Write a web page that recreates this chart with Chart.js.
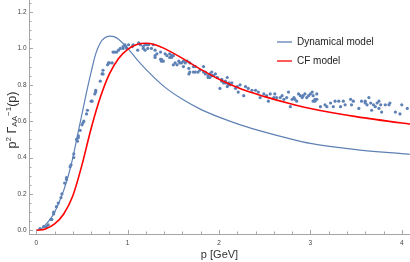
<!DOCTYPE html>
<html>
<head>
<meta charset="utf-8">
<script src="https://cdn.jsdelivr.net/npm/chart.js@4.4.0/dist/chart.umd.min.js"></script>
<style>
html, body { margin: 0; padding: 0; background: #fff; }
#wrap { width: 410px; height: 262px; position: relative; }
</style>
</head>
<body>
<div id="wrap"><canvas id="myChart"></canvas></div>
<script>
// Dynamical model curve
const dynP = [0, 0.05, 0.1, 0.15, 0.2, 0.25, 0.3, 0.35, 0.4, 0.45, 0.5, 0.55, 0.6, 0.65, 0.7, 0.75, 0.8, 0.85, 0.9, 1.0, 1.1, 1.2, 1.4, 1.6, 1.8, 2.0, 2.25, 2.5, 2.75, 3.0, 3.5, 4.0, 4.1]
const dynVal = [0, 0.008, 0.03, 0.06, 0.1, 0.155, 0.22, 0.3, 0.4, 0.52, 0.64, 0.76, 0.87, 0.97, 1.03, 1.058, 1.068, 1.065, 1.05, 1.0, 0.94, 0.885, 0.79, 0.72, 0.665, 0.622, 0.577, 0.54, 0.507, 0.478, 0.444, 0.422, 0.418]

// CF model curve
const cfP = [0, 0.1, 0.2, 0.3, 0.4, 0.5, 0.6, 0.7, 0.8, 0.9, 1.0, 1.1, 1.2, 1.3, 1.4, 1.6, 1.8, 2.0, 2.25, 2.5, 2.75, 3.0, 3.5, 4.0, 4.1]
const cfVal = [0, 0.008, 0.035, 0.09, 0.19, 0.36, 0.56, 0.73, 0.86, 0.945, 0.995, 1.022, 1.028, 1.02, 1.0, 0.945, 0.885, 0.83, 0.775, 0.735, 0.7, 0.67, 0.625, 0.59, 0.584]

// lattice points
const latP = [0.04, 0.08, 0.11, 0.13, 0.16, 0.17, 0.19, 0.19, 0.22, 0.24, 0.27, 0.28, 0.31, 0.33, 0.33, 0.37, 0.38, 0.41, 0.41, 0.44, 0.45, 0.46, 0.46, 0.48, 0.5, 0.51, 0.52, 0.55, 0.56, 0.6, 0.61, 0.64, 0.65, 0.65, 0.7, 0.72, 0.73, 0.73, 0.78, 0.79, 0.8, 0.83, 0.84, 0.86, 0.88, 0.9, 0.92, 0.95, 0.95, 0.97, 0.98, 0.99, 1.01, 1.05, 1.06, 1.11, 1.12, 1.14, 1.17, 1.17, 1.19, 1.19, 1.21, 1.22, 1.23, 1.26, 1.28, 1.3, 1.3, 1.3, 1.32, 1.36, 1.36, 1.37, 1.37, 1.39, 1.41, 1.43, 1.46, 1.46, 1.48, 1.48, 1.5, 1.5, 1.52, 1.54, 1.56, 1.57, 1.59, 1.61, 1.61, 1.63, 1.65, 1.67, 1.67, 1.68, 1.68, 1.72, 1.72, 1.74, 1.74, 1.77, 1.79, 1.83, 1.83, 1.85, 1.85, 1.88, 1.88, 1.9, 1.9, 1.92, 1.92, 1.94, 1.96, 1.98, 1.98, 2.01, 2.03, 2.03, 2.05, 2.07, 2.07, 2.09, 2.09, 2.1, 2.11, 2.12, 2.14, 2.18, 2.2, 2.21, 2.23, 2.27, 2.29, 2.32, 2.36, 2.4, 2.43, 2.45, 2.49, 2.52, 2.54, 2.56, 2.6, 2.61, 2.63, 2.67, 2.69, 2.71, 2.74, 2.76, 2.78, 2.8, 2.82, 2.83, 2.85, 2.87, 2.89, 2.91, 2.92, 2.94, 2.96, 2.98, 3.0, 3.02, 3.03, 3.05, 3.03, 3.07, 3.07, 3.05, 3.11, 3.16, 3.18, 3.22, 3.25, 3.27, 3.31, 3.33, 3.36, 3.38, 3.44, 3.45, 3.47, 3.53, 3.56, 3.6, 3.6, 3.62, 3.64, 3.66, 3.67, 3.69, 3.71, 3.73, 3.75, 3.75, 3.77, 3.78, 3.82, 3.86, 3.87, 3.93, 3.98, 4.0, 4.06]
const latVal = [0.01, 0.02, 0.02, 0.03, 0.06, 0.06, 0.09, 0.1, 0.13, 0.15, 0.18, 0.2, 0.26, 0.28, 0.29, 0.35, 0.36, 0.4, 0.42, 0.5, 0.49, 0.52, 0.51, 0.55, 0.58, 0.59, 0.6, 0.64, 0.66, 0.71, 0.71, 0.75, 0.76, 0.77, 0.82, 0.86, 0.86, 0.88, 0.91, 0.92, 0.92, 0.92, 0.98, 0.98, 0.98, 0.99, 1.0, 1.01, 1.0, 1.02, 1.01, 1.0, 1.02, 1.01, 1.02, 0.99, 1.03, 1.02, 1.01, 1.0, 0.99, 1.02, 1.02, 1.0, 1.02, 1.0, 1.02, 0.99, 0.96, 0.95, 0.97, 0.98, 0.94, 0.94, 0.93, 0.93, 0.97, 0.96, 0.97, 0.95, 0.95, 0.96, 0.96, 0.91, 0.92, 0.91, 0.93, 0.92, 0.92, 0.93, 0.9, 0.92, 0.93, 0.89, 0.86, 0.92, 0.87, 0.87, 0.9, 0.9, 0.87, 0.87, 0.88, 0.87, 0.9, 0.86, 0.87, 0.85, 0.84, 0.84, 0.86, 0.85, 0.87, 0.85, 0.86, 0.84, 0.84, 0.78, 0.82, 0.83, 0.81, 0.82, 0.81, 0.84, 0.79, 0.8, 0.81, 0.8, 0.81, 0.78, 0.79, 0.76, 0.8, 0.74, 0.79, 0.78, 0.77, 0.77, 0.76, 0.73, 0.75, 0.74, 0.71, 0.75, 0.73, 0.75, 0.73, 0.73, 0.74, 0.72, 0.73, 0.76, 0.68, 0.72, 0.73, 0.72, 0.71, 0.75, 0.74, 0.73, 0.74, 0.75, 0.73, 0.74, 0.75, 0.76, 0.74, 0.72, 0.71, 0.75, 0.72, 0.71, 0.68, 0.69, 0.68, 0.7, 0.68, 0.71, 0.71, 0.68, 0.71, 0.69, 0.72, 0.69, 0.71, 0.67, 0.71, 0.7, 0.71, 0.69, 0.73, 0.7, 0.66, 0.69, 0.68, 0.7, 0.71, 0.67, 0.69, 0.65, 0.69, 0.69, 0.7, 0.65, 0.64, 0.69, 0.67]

const xTicks = [0, 1, 2, 3, 4]
const yTicks = [0, 0.2, 0.4, 0.6, 0.8, 1.0, 1.2]
const legendOrder = ['Dynamical model', 'CF model']

const blue = '#5E81B5'
const red = '#FF0000'
const axisColor = '#A6A6A6'
const labelColor = '#444'
const fontFam = '"Liberation Sans", Arial, sans-serif'

function pairs(xs, ys) {
    return xs.map((x, i) => ({ x: x, y: ys[i] }))
}

// minor + major tick marks, pointing inwards like Mathematica
const tickMarks = {
    id: 'tickMarks',
    afterDraw(chart) {
        const ctx = chart.ctx
        const a = chart.chartArea
        const xs = chart.scales.x
        const ys = chart.scales.y
        ctx.save()
        ctx.strokeStyle = axisColor
        ctx.lineWidth = 1
        ctx.beginPath()
        for (let i = 0; i <= 20; i++) {
            const px = Math.round(xs.getPixelForValue(i * 0.2)) + 0.5
            const len = i % 5 === 0 ? 4 : 2.5
            ctx.moveTo(px, a.bottom)
            ctx.lineTo(px, a.bottom - len)
        }
        for (let i = 0; i <= 25; i++) {
            const py = Math.round(ys.getPixelForValue(i * 0.05)) + 0.5
            const len = i % 4 === 0 ? 4 : 2.5
            ctx.moveTo(a.left, py)
            ctx.lineTo(a.left + len, py)
        }
        ctx.stroke()
        ctx.restore()
    }
}

// y title with sub/superscripts
const yTitleParts = [['p', 0], ['2', 1], [' Γ', 0], ['AA', -1], ['−1', 1], ['(p)', 0]]
const yTitle = {
    id: 'yTitle',
    afterDraw(chart) {
        const ctx = chart.ctx
        const a = chart.chartArea
        const big = '12.5px ' + fontFam
        const small = '8px ' + fontFam
        ctx.save()
        let total = 0
        yTitleParts.forEach(p => {
            ctx.font = p[1] === 0 ? big : small
            total += ctx.measureText(p[0]).width
        })
        ctx.translate(16, (a.top + a.bottom) / 2 + 3)
        ctx.rotate(-Math.PI / 2)
        ctx.fillStyle = '#333'
        ctx.textBaseline = 'alphabetic'
        let x = -total / 2
        yTitleParts.forEach(p => {
            ctx.font = p[1] === 0 ? big : small
            const dy = p[1] === 1 ? -5.5 : (p[1] === -1 ? 1 : 0)
            ctx.fillText(p[0], x, dy)
            x += ctx.measureText(p[0]).width
        })
        ctx.restore()
    }
}

// legend in the upper right
const lineLegend = {
    id: 'lineLegend',
    afterDraw(chart) {
        const ctx = chart.ctx
        const a = chart.chartArea
        ctx.save()
        ctx.font = '10px ' + fontFam
        ctx.textBaseline = 'middle'
        legendOrder.forEach((name, i) => {
            const d = chart.data.datasets.find(ds => ds.label === name)
            const y = a.top + 42 + i * 19
            const x = a.right - 133
            ctx.strokeStyle = d.borderColor
            ctx.lineWidth = 1.3
            ctx.beginPath()
            ctx.moveTo(x, y)
            ctx.lineTo(x + 15, y)
            ctx.stroke()
            ctx.fillStyle = '#222'
            ctx.fillText(d.label, x + 20, y)
        })
        ctx.restore()
    }
}

const ctx = document.getElementById('myChart').getContext('2d')
const chart = new Chart(ctx, {
    data: {
        datasets: [
            {
                type: 'line',
                label: 'CF model',
                data: pairs(cfP, cfVal),
                borderColor: red,
                borderWidth: 1.6,
                pointRadius: 0,
                cubicInterpolationMode: 'monotone',
                order: 0
            },
            {
                type: 'line',
                label: 'Dynamical model',
                data: pairs(dynP, dynVal),
                borderColor: blue,
                borderWidth: 1.2,
                pointRadius: 0,
                cubicInterpolationMode: 'monotone',
                order: 1
            },
            {
                type: 'scatter',
                label: 'lattice',
                data: pairs(latP, latVal),
                backgroundColor: blue,
                borderWidth: 0,
                pointRadius: 1.6,
                order: 2
            }
        ]
    },
    options: {
        responsive: true,
        maintainAspectRatio: false,
        animation: false,
        layout: { padding: 0, autoPadding: false },
        plugins: {
            legend: { display: false },
            tooltip: { enabled: false }
        },
        scales: {
            x: {
                type: 'linear',
                min: -0.08,
                max: 4.09,
                afterBuildTicks: s => { s.ticks = xTicks.map(v => ({ value: v })) },
                afterFit: s => { s.height = 28; s.paddingLeft = 0; s.paddingRight = 0 },
                grid: { display: false, drawTicks: false },
                border: { display: true, color: axisColor, width: 1 },
                ticks: {
                    color: labelColor,
                    font: { size: 6.5, family: fontFam },
                    padding: 5,
                    maxRotation: 0,
                    callback: v => String(v)
                },
                title: {
                    display: true,
                    text: 'p [GeV]',
                    color: '#333',
                    font: { size: 11, family: fontFam },
                    padding: { top: 0, bottom: 0 }
                }
            },
            y: {
                type: 'linear',
                min: -0.02,
                max: 1.266,
                afterBuildTicks: s => { s.ticks = yTicks.map(v => ({ value: v })) },
                afterFit: s => { s.width = 29; s.paddingTop = 0; s.paddingBottom = 0 },
                grid: { display: false, drawTicks: false },
                border: { display: true, color: axisColor, width: 1 },
                ticks: {
                    color: labelColor,
                    font: { size: 6.5, family: fontFam },
                    padding: 2.5,
                    callback: v => v.toFixed(1)
                }
            }
        }
    },
    plugins: [tickMarks, yTitle, lineLegend]
})
</script>
</body>
</html>
